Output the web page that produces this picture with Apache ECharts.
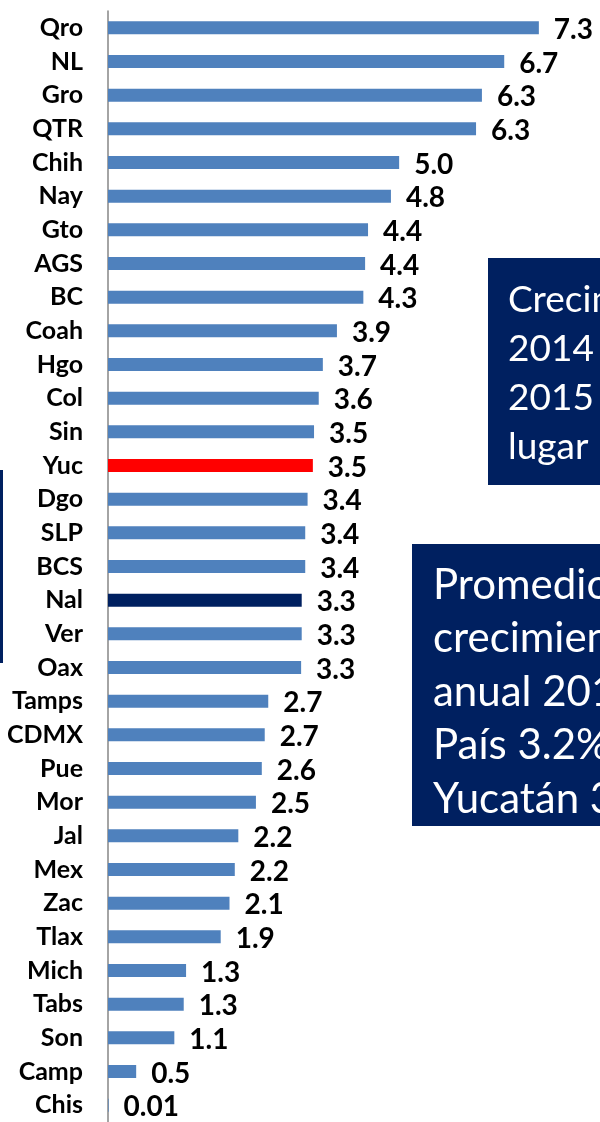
<!DOCTYPE html>
<html>
<head>
<meta charset="utf-8">
<script src="https://cdn.jsdelivr.net/npm/echarts@6/dist/echarts.min.js"></script>
<style>
  html, body { margin: 0; padding: 0; background: #fff; }
  #chart { width: 600px; height: 1122px; }
</style>
</head>
<body>
<div id="chart"></div>
<script>
// States, top to bottom
const STATES = ['Qro','NL','Gro','QTR','Chih','Nay','Gto','AGS','BC','Coah','Hgo','Col','Sin','Yuc',
  'Dgo','SLP','BCS','Nal','Ver','Oax','Tamps','CDMX','Pue','Mor','Jal','Mex','Zac','Tlax','Mich',
  'Tabs','Son','Camp','Chis'];

// Growth values
const GROWTH = [7.34, 6.75, 6.37, 6.27, 4.96, 4.82, 4.43, 4.38, 4.35, 3.90, 3.66, 3.59, 3.51, 3.49,
  3.40, 3.36, 3.36, 3.30, 3.30, 3.29, 2.73, 2.67, 2.62, 2.52, 2.22, 2.16, 2.07, 1.92, 1.33,
  1.29, 1.13, 0.48, 0.01];

// Printed labels
const VALUE_LABELS = ['7.3','6.7','6.3','6.3','5.0','4.8','4.4','4.4','4.3','3.9','3.7','3.6','3.5','3.5',
  '3.4','3.4','3.4','3.3','3.3','3.3','2.7','2.7','2.6','2.5','2.2','2.2','2.1','1.9','1.3',
  '1.3','1.1','0.5','0.01'];

const BOX1_LINES = ['Crecimiento', '2014', '2015', 'lugar'];
const BOX2_LINES = ['Promedio de', 'crecimiento', 'anual 2010-2015', 'País 3.2%', 'Yucatán 3.5%'];

const BLUE = '#4f81bd', RED = '#ff0000', NAVY = '#002060';
const colorFor = s => s === 'Yuc' ? RED : (s === 'Nal' ? NAVY : BLUE);

// one text element per line, centred on the given y
function textLines(lines, x, y0, step, size) {
  return lines.map((t, i) => ({
    type: 'text', x: x, y: y0 + i * step,
    style: { text: t, fill: '#fff', font: size + 'px Lato', verticalAlign: 'middle' }
  }));
}

const chart = echarts.init(document.getElementById('chart'));

chart.setOption({
  animation: false,
  grid: { left: 108, top: 11, right: 22.4, bottom: -1 },
  xAxis: {
    type: 'value', min: 0, max: 8, show: false,
    splitLine: { show: false }
  },
  yAxis: {
    type: 'category',
    data: STATES,
    inverse: true,
    axisLine: { lineStyle: { color: '#868686', width: 1.5 } },
    axisTick: { length: 8, lineStyle: { color: '#868686', width: 1.5 } },
    axisLabel: {
      interval: 0,
      margin: 25,
      color: '#000',
      fontFamily: 'Lato',
      fontWeight: 'bold',
      fontSize: 25
    }
  },
  series: [{
    type: 'bar',
    barWidth: 13,
    data: GROWTH.map((v, i) => ({ value: v, itemStyle: { color: colorFor(STATES[i]) } })),
    label: {
      show: true,
      position: 'right',
      distance: 15,
      offset: [0, 2],
      color: '#000',
      fontFamily: 'Lato',
      fontWeight: 'bold',
      fontSize: 28,
      formatter: p => VALUE_LABELS[p.dataIndex]
    }
  }],
  graphic: [
    // partial box at left edge
    { type: 'rect', shape: { x: -20, y: 470, width: 23, height: 193 }, style: { fill: NAVY } },
    // box 1
    { type: 'rect', shape: { x: 488, y: 258, width: 140, height: 227 }, style: { fill: NAVY } },
    ...textLines(BOX1_LINES, 508, 300, 49, 37),
    // box 2
    { type: 'rect', shape: { x: 412, y: 544, width: 220, height: 282 }, style: { fill: NAVY } },
    ...textLines(BOX2_LINES, 433, 585, 53.5, 42)
  ]
});
</script>
</body>
</html>
